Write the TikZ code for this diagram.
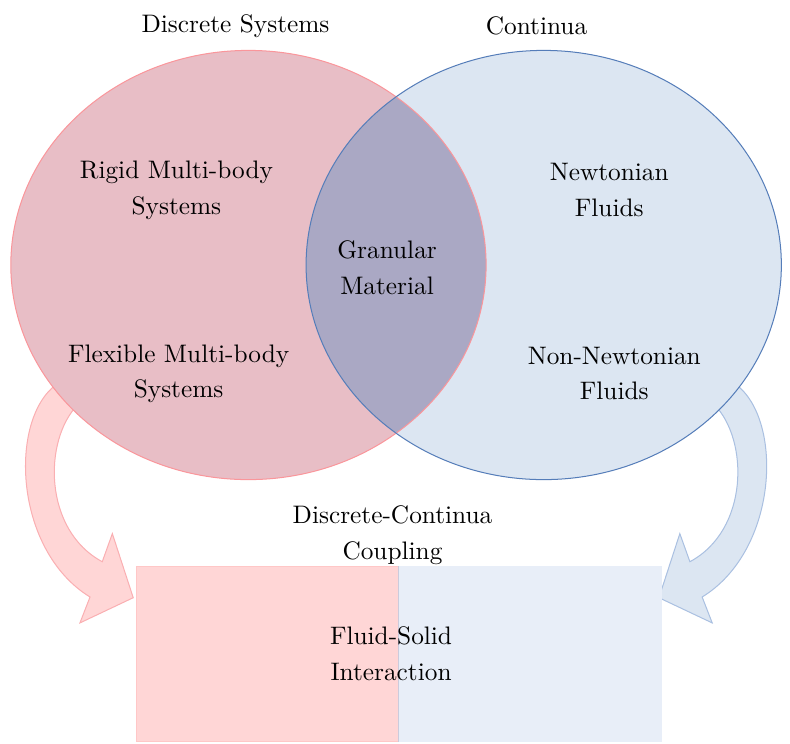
\documentclass[tikz,border=0pt]{standalone}
\usepackage{tikz}
\usetikzlibrary{arrows.meta, positioning}
\definecolor{discfill}{RGB}{232, 190, 198}
\definecolor{discline}{RGB}{250, 150, 155}
\definecolor{contfill}{RGB}{220, 230, 242}
\definecolor{contline}{RGB}{85, 125, 185}
\definecolor{bothfill}{RGB}{170, 168, 196}
\definecolor{pinkfill}{RGB}{255, 214, 214}
\definecolor{pinkline}{RGB}{250, 175, 178}
\definecolor{paleblue}{RGB}{232, 238, 248}
\definecolor{palebline}{RGB}{170, 192, 225}

\begin{document}
\begin{tikzpicture}[
    lbl/.style={align=center, font=\fontsize{10}{14}\selectfont},
    half/.style={minimum width=3.64cm, minimum height=2.43cm, inner sep=0pt, line width=0.4pt},
    bentarrow/.pic={
        \path[pic actions] (0.78,4.99) .. controls (0.12,4.5) and (0.19,2.69) .. (1.25,2.04)
            -- (1.11,1.68) -- (1.85,2.03) -- (1.56,2.92) -- (1.42,2.53)
            .. controls (0.6,2.97) and (0.6,4.22) .. (1.08,4.71) -- cycle;
    }
]
    \useasboundingbox (0,0) rectangle (10.97,10.33);

    \coordinate (dcen) at (3.45,6.65);
    \coordinate (ccen) at (7.55,6.65);

    % curved arrows into the coupling box
    \pic[draw=pinkline, fill=pinkfill, line width=0.4pt] at (0,0) {bentarrow};
    \pic[draw=palebline, fill=contfill, line width=0.4pt, xscale=-1] at (11,0) {bentarrow};

    % the two sets
    \fill[discfill] (dcen) ellipse [x radius=3.3cm, y radius=2.98cm];
    \fill[contfill] (ccen) ellipse [x radius=3.3cm, y radius=2.98cm];
    \begin{scope}
        \clip (dcen) ellipse [x radius=3.3cm, y radius=2.98cm];
        \fill[bothfill] (ccen) ellipse [x radius=3.3cm, y radius=2.98cm];
    \end{scope}
    \draw[discline, line width=0.4pt] (dcen) ellipse [x radius=3.3cm, y radius=2.98cm];
    \draw[contline, line width=0.4pt] (ccen) ellipse [x radius=3.3cm, y radius=2.98cm];

    % coupling box
    \node[half, fill=paleblue, draw=paleblue, anchor=south west] (fluidbox) at (5.54,0.02) {};
    \node[half, fill=pinkfill, draw=pinkfill!93!red, anchor=south east] (solidbox) at (5.54,0.02) {};
    \draw[bothfill!60, line width=0.4pt] (solidbox.north east) -- (solidbox.south east);

    \node[lbl] (discrete) at (3.27,9.97) {Discrete Systems};
    \node[lbl] (continua) at (7.45,9.97) {Continua};
    \node[lbl] (rigid) at (2.45,7.69) {Rigid Multi-body\\Systems};
    \node[lbl] (flexible) at (2.48,5.14) {Flexible Multi-body\\Systems};
    \node[lbl] (granular) at (5.375,6.61) {Granular\\Material};
    \node[lbl] (newton) at (8.46,7.69) {Newtonian\\Fluids};
    \node[lbl] (nonnewton) at (8.53,5.14) {Non-Newtonian\\Fluids};
    \node[lbl] (coupling) at (5.45,2.90) {Discrete-Continua\\Coupling};
    \node[lbl] (fsi) at (5.43,1.25) {Fluid-Solid\\Interaction};
\end{tikzpicture}
\end{document}
